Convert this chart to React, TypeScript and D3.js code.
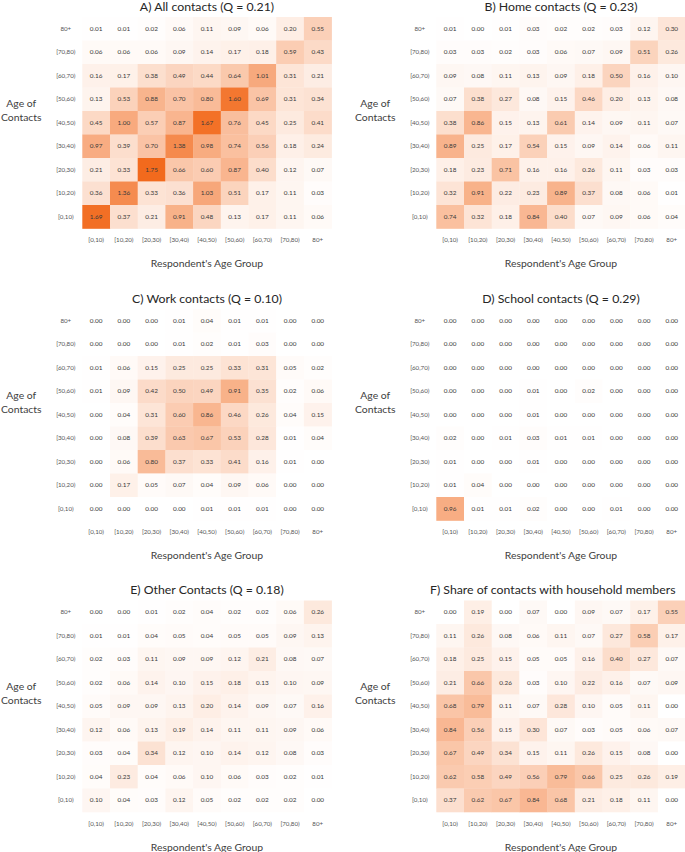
import React from "react";
import * as d3 from "d3";

const ageGroups = ["[0,10)", "[10,20)", "[20,30)", "[30,40)", "[40,50)", "[50,60)", "[60,70)", "[70,80)", "80+"];

// rows listed top to bottom as drawn: contact age 80+ down to [0,10); columns: respondent age [0,10) .. 80+
const allContacts = [
  [0.01, 0.01, 0.02, 0.06, 0.11, 0.09, 0.06, 0.20, 0.55],
  [0.06, 0.06, 0.06, 0.09, 0.14, 0.17, 0.18, 0.59, 0.43],
  [0.16, 0.17, 0.38, 0.49, 0.44, 0.64, 1.01, 0.31, 0.21],
  [0.13, 0.53, 0.88, 0.70, 0.80, 1.60, 0.69, 0.31, 0.34],
  [0.45, 1.00, 0.57, 0.87, 1.67, 0.76, 0.45, 0.25, 0.41],
  [0.97, 0.39, 0.70, 1.38, 0.98, 0.74, 0.56, 0.18, 0.24],
  [0.21, 0.33, 1.75, 0.66, 0.60, 0.87, 0.40, 0.12, 0.07],
  [0.36, 1.36, 0.33, 0.36, 1.03, 0.51, 0.17, 0.11, 0.03],
  [1.69, 0.37, 0.21, 0.91, 0.48, 0.13, 0.17, 0.11, 0.06],
];

const homeContacts = [
  [0.01, 0.00, 0.01, 0.03, 0.02, 0.02, 0.03, 0.12, 0.30],
  [0.03, 0.03, 0.02, 0.03, 0.06, 0.07, 0.09, 0.51, 0.26],
  [0.09, 0.08, 0.11, 0.13, 0.09, 0.18, 0.50, 0.16, 0.10],
  [0.07, 0.38, 0.27, 0.08, 0.15, 0.46, 0.20, 0.13, 0.08],
  [0.38, 0.86, 0.15, 0.13, 0.61, 0.14, 0.09, 0.11, 0.07],
  [0.89, 0.25, 0.17, 0.54, 0.15, 0.09, 0.14, 0.06, 0.11],
  [0.18, 0.23, 0.71, 0.16, 0.16, 0.26, 0.11, 0.03, 0.03],
  [0.32, 0.91, 0.22, 0.23, 0.89, 0.37, 0.08, 0.06, 0.01],
  [0.74, 0.32, 0.18, 0.84, 0.40, 0.07, 0.09, 0.06, 0.04],
];

const workContacts = [
  [0.00, 0.00, 0.00, 0.01, 0.04, 0.01, 0.01, 0.00, 0.00],
  [0.00, 0.00, 0.00, 0.01, 0.02, 0.01, 0.03, 0.00, 0.00],
  [0.01, 0.06, 0.15, 0.25, 0.25, 0.33, 0.31, 0.05, 0.02],
  [0.01, 0.09, 0.42, 0.50, 0.49, 0.91, 0.35, 0.02, 0.06],
  [0.00, 0.04, 0.31, 0.60, 0.86, 0.46, 0.26, 0.04, 0.15],
  [0.00, 0.08, 0.39, 0.63, 0.67, 0.53, 0.28, 0.01, 0.04],
  [0.00, 0.06, 0.80, 0.37, 0.33, 0.41, 0.16, 0.01, 0.00],
  [0.00, 0.17, 0.05, 0.07, 0.04, 0.09, 0.06, 0.00, 0.00],
  [0.00, 0.00, 0.00, 0.00, 0.01, 0.01, 0.01, 0.00, 0.00],
];

const schoolContacts = [
  [0.00, 0.00, 0.00, 0.00, 0.00, 0.00, 0.00, 0.00, 0.00],
  [0.00, 0.00, 0.00, 0.00, 0.00, 0.00, 0.00, 0.00, 0.00],
  [0.00, 0.00, 0.00, 0.00, 0.00, 0.00, 0.00, 0.00, 0.00],
  [0.00, 0.00, 0.00, 0.01, 0.00, 0.02, 0.00, 0.00, 0.00],
  [0.00, 0.00, 0.00, 0.01, 0.00, 0.00, 0.00, 0.00, 0.00],
  [0.02, 0.00, 0.01, 0.03, 0.01, 0.01, 0.00, 0.00, 0.00],
  [0.01, 0.00, 0.00, 0.01, 0.00, 0.00, 0.00, 0.00, 0.00],
  [0.01, 0.04, 0.00, 0.00, 0.00, 0.00, 0.00, 0.00, 0.00],
  [0.96, 0.01, 0.01, 0.02, 0.00, 0.00, 0.01, 0.00, 0.00],
];

const otherContacts = [
  [0.00, 0.00, 0.01, 0.02, 0.04, 0.02, 0.02, 0.06, 0.26],
  [0.01, 0.01, 0.04, 0.05, 0.04, 0.05, 0.05, 0.09, 0.13],
  [0.02, 0.03, 0.11, 0.09, 0.09, 0.12, 0.21, 0.08, 0.07],
  [0.02, 0.06, 0.14, 0.10, 0.15, 0.18, 0.13, 0.10, 0.09],
  [0.05, 0.09, 0.09, 0.13, 0.20, 0.14, 0.09, 0.07, 0.16],
  [0.12, 0.06, 0.13, 0.19, 0.14, 0.11, 0.11, 0.09, 0.06],
  [0.03, 0.04, 0.34, 0.12, 0.10, 0.14, 0.12, 0.08, 0.03],
  [0.04, 0.23, 0.04, 0.06, 0.10, 0.06, 0.03, 0.02, 0.01],
  [0.10, 0.04, 0.03, 0.12, 0.05, 0.02, 0.02, 0.02, 0.00],
];

const householdShare = [
  [0.00, 0.19, 0.00, 0.07, 0.00, 0.09, 0.07, 0.17, 0.55],
  [0.11, 0.26, 0.08, 0.06, 0.11, 0.07, 0.27, 0.58, 0.17],
  [0.18, 0.25, 0.15, 0.05, 0.05, 0.16, 0.40, 0.27, 0.07],
  [0.21, 0.66, 0.26, 0.03, 0.10, 0.22, 0.16, 0.07, 0.09],
  [0.68, 0.79, 0.11, 0.07, 0.28, 0.10, 0.05, 0.11, 0.00],
  [0.84, 0.56, 0.15, 0.30, 0.07, 0.03, 0.05, 0.06, 0.07],
  [0.67, 0.49, 0.34, 0.15, 0.11, 0.26, 0.15, 0.08, 0.00],
  [0.62, 0.58, 0.49, 0.56, 0.79, 0.66, 0.25, 0.26, 0.19],
  [0.37, 0.62, 0.67, 0.84, 0.68, 0.21, 0.18, 0.11, 0.00],
];

const panelTitles = [
  "A) All contacts (Q = 0.21)",
  "B) Home contacts (Q = 0.23)",
  "C) Work contacts (Q = 0.10)",
  "D) School contacts (Q = 0.29)",
  "E) Other Contacts (Q = 0.18)",
  "F) Share of contacts with household members",
];
const panelData = [allContacts, homeContacts, workContacts, schoolContacts, otherContacts, householdShare];

const yAxisTitle = ["Age of", "Contacts"];
const xAxisTitle = "Respondent's Age Group";

const W = 685;
const H = 852;
const FONT = "Lato, 'Open Sans', sans-serif";
const cellW = 27.7;
const cellH = 23.5;
const colLeft = [82.3, 436.3];
const rowTop = [17, 309, 600.5];

const color = d3.scaleLinear<string>().domain([0, 1.75]).range(["#ffffff", "#f26a1d"]).interpolate(d3.interpolateRgb).clamp(true);
const fmt = d3.format(".2f");

function Panel({ idx }: { idx: number }) {
  const col = idx % 2;
  const row = Math.floor(idx / 2);
  const left = colLeft[col];
  const top = rowTop[row];
  const x = d3.scaleBand<string>().domain(ageGroups).range([left, left + cellW * ageGroups.length]);
  const rowsOrder = [...ageGroups].reverse();
  const y = d3.scaleBand<string>().domain(rowsOrder).range([top, top + cellH * ageGroups.length]);
  const data = panelData[idx];
  const cx = left + (cellW * ageGroups.length) / 2;
  const bottom = top + cellH * ageGroups.length;
  const midY = top + (cellH * ageGroups.length) / 2;
  const isLong = idx === 5;
  return (
    <g>
      {data.map((r, i) =>
        r.map((v, j) => (
          <rect
            key={`c${i}-${j}`}
            x={x(ageGroups[j])}
            y={y(rowsOrder[i])}
            width={x.bandwidth() + 0.3}
            height={y.bandwidth() + 0.3}
            fill={color(v)}
          />
        ))
      )}
      {data.map((r, i) =>
        r.map((v, j) => (
          <text
            key={`t${i}-${j}`}
            x={(x(ageGroups[j]) as number) + x.bandwidth() / 2}
            y={(y(rowsOrder[i]) as number) + y.bandwidth() / 2}
            dy="0.35em"
            textAnchor="middle"
            fontSize={6.4}
            fill="#3a3a3a"
            fontFamily={FONT}
          >
            {fmt(v)}
          </text>
        ))
      )}
      {rowsOrder.map((g) => (
        <text
          key={`y${g}`}
          x={left - 16.5}
          y={(y(g) as number) + y.bandwidth() / 2}
          dy="0.35em"
          textAnchor="middle"
          fontSize={6.2}
          fill="#555"
          fontFamily={FONT}
        >
          {g}
        </text>
      ))}
      {ageGroups.map((g) => (
        <text
          key={`x${g}`}
          x={(x(g) as number) + x.bandwidth() / 2}
          y={bottom + 11.7}
          dy="0.35em"
          textAnchor="middle"
          fontSize={6.2}
          fill="#555"
          fontFamily={FONT}
        >
          {g}
        </text>
      ))}
      <text
        x={isLong ? 675.5 : cx}
        y={top - 6.3}
        textAnchor={isLong ? "end" : "middle"}
        fontSize={12.3}
        fill="#262626"
        fontFamily={FONT}
      >
        {panelTitles[idx]}
      </text>
      {yAxisTitle.map((t, k) => (
        <text
          key={`ya${k}`}
          x={left - 61}
          y={midY - 19.5 + k * 14}
          dy="0.35em"
          textAnchor="middle"
          fontSize={10.4}
          fill="#404040"
          fontFamily={FONT}
        >
          {t}
        </text>
      ))}
      <text
        x={cx}
        y={bottom + 35.3}
        dy="0.35em"
        textAnchor="middle"
        fontSize={10.4}
        fill="#404040"
        fontFamily={FONT}
      >
        {xAxisTitle}
      </text>
    </g>
  );
}

export default function App() {
  return (
    <svg
      width={W}
      height={H}
      viewBox={`0 0 ${W} ${H}`}
      style={{ position: "absolute", left: 0, top: 0, background: "#fff" }}
    >
      <rect x={0} y={0} width={W} height={H} fill="#fff" />
      {panelTitles.map((_, i) => (
        <Panel key={i} idx={i} />
      ))}
    </svg>
  );
}
